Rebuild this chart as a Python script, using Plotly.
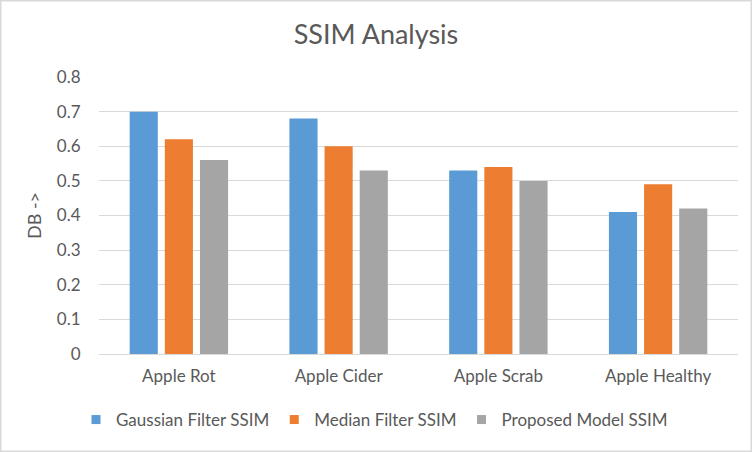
import plotly.graph_objects as go

categories = ["Apple Rot", "Apple Cider", "Apple Scrab", "Apple Healthy"]
gaussian = [0.70, 0.68, 0.53, 0.41]
median = [0.62, 0.60, 0.54, 0.49]
proposed = [0.56, 0.53, 0.50, 0.42]
series_names = ["Gaussian Filter SSIM", "Median Filter SSIM", "Proposed Model SSIM"]
colors = ["#5B9BD5", "#ED7D31", "#A5A5A5"]
y_ticks = [0, 0.1, 0.2, 0.3, 0.4, 0.5, 0.6, 0.7, 0.8]
y_tick_labels = ["0", "0.1", "0.2", "0.3", "0.4", "0.5", "0.6", "0.7", "0.8"]

font_family = "Lato, 'Open Sans', sans-serif"
text_color = "#595959"
transparent = "rgba(0,0,0,0)"

fig = go.Figure()
for name, vals, col in zip(series_names, [gaussian, median, proposed], colors):
    fig.add_trace(go.Bar(x=categories, y=vals, name=name, showlegend=False,
                         marker=dict(color=col, line=dict(width=0))))
# legend entries with small square symbols
for name, col in zip(series_names, colors):
    fig.add_trace(go.Scatter(x=[None], y=[None], mode="markers", name=name,
                             marker=dict(symbol="square", size=9, color=col)))

fig.update_layout(
    width=752, height=452,
    margin=dict(l=99, r=14, t=77, b=98),
    paper_bgcolor="white", plot_bgcolor="white",
    barmode="group", bargap=0.34, bargroupgap=0.2,
    title=dict(text="SSIM Analysis", x=0.5, xanchor="center", y=1 - 35 / 452, yanchor="middle",
               font=dict(family=font_family, size=27, color=text_color)),
    font=dict(family=font_family, color=text_color, size=17),
    xaxis=dict(showline=True, linecolor="#D9D9D9", linewidth=1,
               ticks="outside", ticklen=7, tickcolor=transparent,
               tickfont=dict(size=17, color=text_color)),
    yaxis=dict(range=[0, 0.8], tickvals=y_ticks, ticktext=y_tick_labels,
               showgrid=True, gridcolor="#D9D9D9", gridwidth=1, zeroline=False,
               ticks="outside", ticklen=14, tickcolor=transparent,
               tickfont=dict(size=17, color=text_color),
               title=dict(text="DB ->", font=dict(size=18, color=text_color), standoff=10)),
    legend=dict(orientation="h", x=(76 - 99) / 639, xanchor="left",
                y=-(420 - 354) / 277, yanchor="middle",
                font=dict(size=17, color=text_color), itemwidth=30,
                traceorder="normal"),
)
# outer border
fig.add_shape(type="rect", xref="paper", yref="paper",
              x0=-99 / 639, x1=1 + 14 / 639, y0=-98 / 277, y1=1 + 77 / 277,
              line=dict(color="#D9D9D9", width=3))

fig.write_html("out.html", config={"displayModeBar": False},
               post_script="document.body.style.margin='0';")
